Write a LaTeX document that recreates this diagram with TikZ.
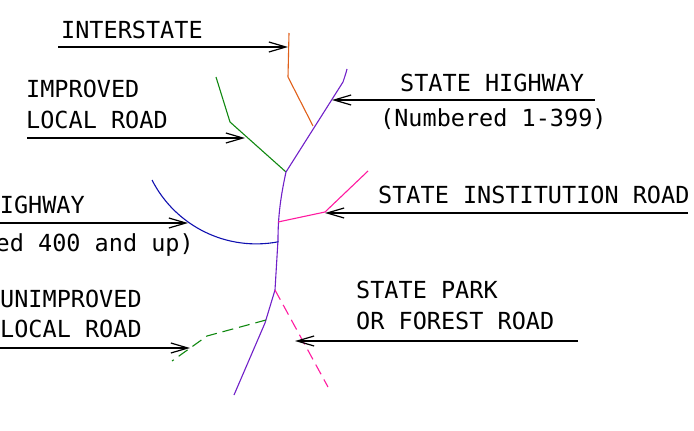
\documentclass[tikz,border=0pt]{standalone}
\usepackage{fontspec}
\newfontfamily\cadfont{DejaVu Sans Mono}
\usetikzlibrary{positioning,arrows.meta}

\definecolor{interstatecol}{RGB}{224,96,26}
\definecolor{highwaycol}{RGB}{112,32,200}
\definecolor{localcol}{RGB}{16,136,16}
\definecolor{institutioncol}{RGB}{255,26,160}
\definecolor{otherhwycol}{RGB}{16,16,176}

\begin{document}
\begin{tikzpicture}[x=1pt,y=-1pt,
    roadname/.style={anchor=base west,inner sep=0pt,
		font=\cadfont\fontsize{23.5}{28}\selectfont},
    pointer/.style={line width=1.2pt,-{Straight Barb[length=17pt,width=10pt]}},
% Road styles
    road/.style={line width=1.1pt},
    trail/.style={line width=1.1pt,dash pattern=on 11pt off 6pt}
    ]
   \clip (0,0) rectangle (694,431);
%%% Draw the roads
   \draw[road,interstatecol] (289,33) -- (288,77) -- (313,126);
   \draw[road,localcol] (216,77) -- (230,122) -- (286,172);
   \draw[road,highwaycol] (347,69) .. controls (346,73) .. (343,82) -- (286,172)
	.. controls (281,195) and (278,215) .. (278,240) -- (275,290) -- (265,323) -- (234,395);
   \draw[road,institutioncol] (278,222) -- (325,212) -- (368,171);
   \draw[road,otherhwycol] (152,180) arc[start angle=153,end angle=79,radius=117];
   \draw[trail,localcol] (266,320) -- (207,336) -- (172,361);
   \draw[trail,institutioncol] (275,290) -- (328,387);

%%% Points on the roads
   \coordinate (interstate) at (288,47);
   \coordinate (improved) at (245,138);
   \coordinate (statehwy) at (332,100);
   \coordinate (institution) at (325,213);
   \coordinate (otherhwy) at (188,223);
   \coordinate (unimproved) at (190,348);
   \coordinate (park) at (295,341);

%%% Labels
   \node [roadname] (t1) at (61,38) {INTERSTATE};
   \node [roadname] (t2) at (26,97) {IMPROVED};
   \node [roadname] (t2b) [below=31pt of t2.base west,anchor=base west] {LOCAL ROAD};
   \node [roadname] (t3) at (400,91) {STATE HIGHWAY};
   \node [roadname] (t3b) [below=35pt of t3.base west,anchor=base west,xshift=-20pt] {(Numbered 1-399)};
   \node [roadname] (t4) at (378,203) {STATE INSTITUTION ROAD};
   \node [roadname,anchor=base east] (t5) at (85,213) {STATE HIGHWAY};
   \node [roadname,anchor=base east] (t5b) at (194,251) {(Numbered 400 and up)};
   \node [roadname] (t6) at (0,307) {UNIMPROVED};
   \node [roadname] (t6b) [below=30pt of t6.base west,anchor=base west] {LOCAL ROAD};
   \node [roadname] (t7) at (356,298) {STATE PARK};
   \node [roadname] (t7b) [below=31pt of t7.base west,anchor=base west] {OR FOREST ROAD};

%%% Pointers
   \coordinate (p1) at (58,47);
   \coordinate (p2) at (27,138);
   \coordinate (p3) at (595,100);
   \coordinate (p4) at (688,213);
   \coordinate (p5) at (-5,223);
   \coordinate (p6) at (-5,348);
   \coordinate (p7) at (578,341);
   \draw[pointer] (p1) -- (interstate);
   \draw[pointer] (p2) -- (improved);
   \draw[pointer] (p3) -- (statehwy);
   \draw[pointer] (p4) -- (institution);
   \draw[pointer] (p5) -- (otherhwy);
   \draw[pointer] (p6) -- (unimproved);
   \draw[pointer] (p7) -- (park);
\end{tikzpicture}
\end{document}
